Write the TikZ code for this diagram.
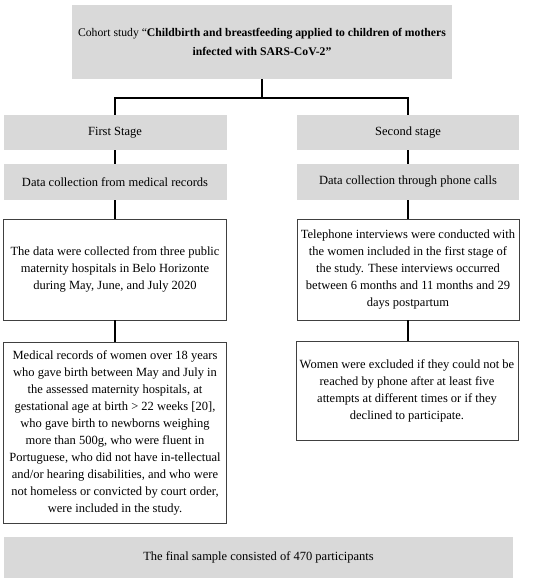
\documentclass[tikz,border=0pt]{standalone}
\usepackage{fontspec}
\setmainfont{Liberation Serif}
\usepackage{tikz}
\usetikzlibrary{positioning}
\definecolor{boxgray}{RGB}{217,217,217}
\tikzset {
  x=1pt, y=1pt,
  % shaded boxes
  shaded/.style = {fill=boxgray, draw=none, align=center, inner sep=2pt,
    font=\fontsize{12.5}{17}\selectfont},
  % framed white boxes
  framed/.style = {fill=white, draw=black!75, line width=0.6pt, align=center,
    inner sep=2pt, font=\fontsize{12.5}{17}\selectfont},
  % connectors
  link/.style = {black, line width=1.4pt},
}
\begin{document}
\begin{tikzpicture}
        \useasboundingbox (0,0) rectangle (550,-581);

        \node[shaded, minimum width=380, minimum height=74, font=\fontsize{11.7}{17}\selectfont] (cohort) at (262,-42)
          {Cohort study “\textbf{Childbirth and breastfeeding applied to children of mothers}\\[2pt]
           \textbf{infected with SARS-CoV-2”}};

        \node[shaded, minimum width=223, minimum height=35] (stage1) at (115,-132.5) {First Stage};
        \node[shaded, minimum width=222, minimum height=35] (stage2) at (408,-132.5) {Second stage};

        \node[shaded, minimum width=223, minimum height=36] (collect1) at (115,-182) {Data collection from medical records};
        \node[shaded, minimum width=222, minimum height=36] (collect2) at (408,-182) {Data collection through phone calls};

        \node[framed, minimum width=223, minimum height=101] (hosp) at (115,-269.5)
          {The data were collected from three public\\ maternity hospitals in Belo Horizonte\\ during May, June, and July 2020};
        \node[framed, minimum width=222, minimum height=101] (phone) at (408,-269.5)
          {Telephone interviews were conducted with\\ the women included in the first stage of\\ the study. These interviews occurred\\
           between 6 months and 11 months and 29\\ days postpartum};

        \node[framed, minimum width=223, minimum height=181] (include) at (115,-432.5)
          {Medical records of women over 18 years\\ who gave birth between May and July in\\ the assessed maternity hospitals, at\\
           gestational age at birth > 22 weeks [20],\\ who gave birth to newborns weighing\\ more than 500g, who were fluent in\\
           Portuguese, who did not have in-tellectual\\ and/or hearing disabilities, and who were\\
           not homeless or convicted by court order,\\ were included in the study.};
        \node[framed, minimum width=222, minimum height=99] (exclude) at (407,-390.5)
          {Women were excluded if they could not be\\ reached by phone after at least five\\
           attempts at different times or if they\\ declined to participate.};

        \node[shaded, minimum width=509, minimum height=41] (final) at (258.5,-557.5) {The final sample consisted of 470 participants};

        \coordinate (fork) at (262,-98);
        \draw [link] (cohort.south) -- (fork);
        \draw [link] (stage1.north) |- (fork) -| (stage2.north);
        \draw [link] (stage1) -- (collect1);
        \draw [link] (stage2) -- (collect2);
        \draw [link] (collect1) -- (hosp);
        \draw [link] (collect2) -- (phone);
        \draw [link] (hosp) -- (include);
        \draw [link] (phone) -- (exclude.north -| phone);
\end{tikzpicture}
\end{document}
